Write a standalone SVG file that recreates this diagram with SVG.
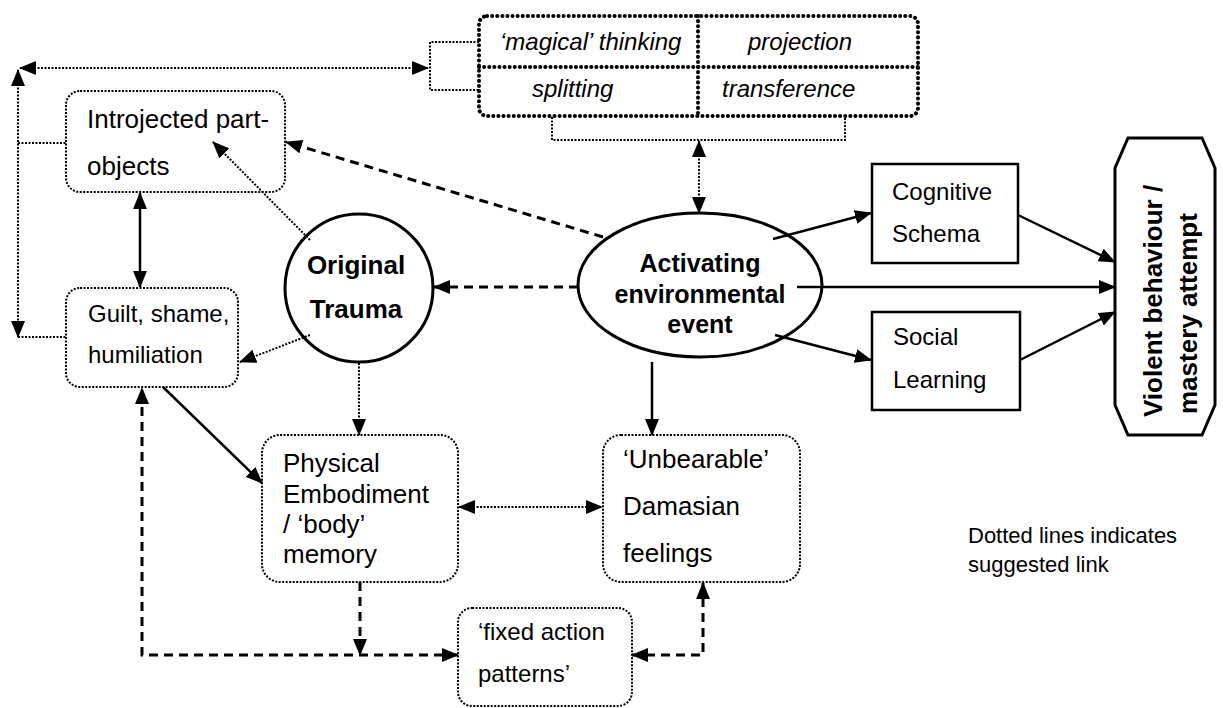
<svg xmlns="http://www.w3.org/2000/svg" width="1223" height="708" viewBox="0 0 1223 708">
<style>
text{font-family:"Liberation Sans",Arial,sans-serif;fill:#000}
.r24{font-size:24px}
.r26{font-size:26px}
.b{font-weight:bold}
.it{font-style:italic;font-size:24px}
.box{fill:#fff;stroke:#000;stroke-width:2;stroke-dasharray:2 1.5}
.def{fill:none;stroke:#000;stroke-width:4;stroke-dasharray:0.1 5;stroke-linecap:round}
.solidbox{fill:#fff;stroke:#000;stroke-width:2.5}
.shape{fill:#fff;stroke:#000;stroke-width:3}
.c{fill:none;stroke:#000}
.dot{stroke-width:2;stroke-dasharray:2 1.5}
.dash{stroke-width:3;stroke-dasharray:9 6}
.sol{stroke-width:2.5}
</style>
<defs>
<marker id="a" viewBox="0 0 17 14" refX="16" refY="7" markerWidth="17" markerHeight="14" markerUnits="userSpaceOnUse" orient="auto-start-reverse">
<path d="M0,0 L17,7 L0,14 z" fill="#000"/>
</marker>
</defs>

<g id="defenses">
<rect class="def" x="479" y="16" width="439" height="100" rx="8"/>
<line class="def" x1="479" y1="67" x2="918" y2="67"/>
<line class="def" x1="698" y1="16" x2="698" y2="116"/>
<text class="it" x="500" y="50">‘magical’ thinking</text>
<text class="it" x="748" y="50">projection</text>
<text class="it" x="532" y="97">splitting</text>
<text class="it" x="722" y="97">transference</text>
</g>

<g id="introjected">
<rect class="box" x="66" y="91" width="219" height="101" rx="14"/>
<text class="r26" x="87" y="128">Introjected part-</text>
<text class="r26" x="87" y="175">objects</text>
</g>

<g id="guilt">
<rect class="box" x="66" y="288" width="172" height="99" rx="14"/>
<text class="r24" x="88" y="322">Guilt, shame,</text>
<text class="r24" x="88" y="363">humiliation</text>
</g>

<g id="trauma">
<circle class="shape" cx="359" cy="288" r="74"/>
<text class="r26 b" x="356" y="274" text-anchor="middle">Original</text>
<text class="r26 b" x="356" y="318" text-anchor="middle">Trauma</text>
</g>

<g id="activating">
<ellipse class="shape" cx="700" cy="285" rx="122" ry="72"/>
<text class="b" style="font-size:25px" x="700" y="272" text-anchor="middle">Activating</text>
<text class="b" style="font-size:25px" x="700" y="303" text-anchor="middle">environmental</text>
<text class="b" style="font-size:25px" x="700" y="333" text-anchor="middle">event</text>
</g>

<g id="cognitive">
<rect class="solidbox" x="872" y="164" width="146" height="99"/>
<text class="r24" x="892" y="200">Cognitive</text>
<text class="r24" x="892" y="242">Schema</text>
</g>

<g id="social">
<rect class="solidbox" x="872" y="312" width="148" height="98"/>
<text class="r24" x="893" y="345">Social</text>
<text class="r24" x="893" y="388">Learning</text>
</g>

<g id="violent">
<path class="shape" d="M1128,138 H1202 L1215,168 V405 L1202,435 H1128 L1115,405 V168 z"/>
<text class="b" style="font-size:26px" transform="translate(1162,417) rotate(-90)">Violent behaviour /</text>
<text class="b" style="font-size:26px" transform="translate(1197,414) rotate(-90)">mastery attempt</text>
</g>

<g id="physical">
<rect class="box" x="262" y="435" width="196" height="147" rx="18"/>
<text class="r26" x="283" y="472">Physical</text>
<text class="r26" x="283" y="503">Embodiment</text>
<text class="r26" x="283" y="533">/ ‘body’</text>
<text class="r26" x="283" y="563">memory</text>
</g>

<g id="unbearable">
<rect class="box" x="603" y="435" width="197" height="147" rx="18"/>
<text class="r26" x="623" y="468">‘Unbearable’</text>
<text class="r26" x="623" y="515">Damasian</text>
<text class="r26" x="623" y="562">feelings</text>
</g>

<g id="fixed">
<rect class="box" x="458" y="608" width="174" height="98" rx="14"/>
<text class="r24" x="478" y="640">‘fixed action</text>
<text class="r24" x="478" y="682">patterns’</text>
</g>

<g id="legend">
<text style="font-size:22px" x="968" y="543">Dotted lines indicates</text>
<text style="font-size:22px" x="968" y="572">suggested link</text>
</g>

<g id="connectors">
<line class="c dot" x1="20" y1="68" x2="428" y2="68" marker-start="url(#a)" marker-end="url(#a)"/>
<line class="c dot" x1="18" y1="70" x2="18" y2="337" marker-start="url(#a)" marker-end="url(#a)"/>
<line class="c dot" x1="18" y1="143" x2="66" y2="143"/>
<line class="c dot" x1="18" y1="337" x2="66" y2="337"/>
<path class="c dot" d="M479,42 H430 V90 H479"/>
<path class="c dot" d="M552,117 V140 H845 V117"/>
<line class="c dot" x1="699" y1="141" x2="699" y2="213" marker-start="url(#a)" marker-end="url(#a)"/>
<line class="c sol" x1="140" y1="193" x2="140" y2="287" marker-start="url(#a)" marker-end="url(#a)"/>
<line class="c dot" x1="310" y1="240" x2="213" y2="142" marker-end="url(#a)"/>
<line class="c dot" x1="310" y1="335" x2="240" y2="362" marker-end="url(#a)"/>
<line class="c dot" x1="359" y1="363" x2="359" y2="435" marker-end="url(#a)"/>
<line class="c dash" x1="603" y1="237" x2="286" y2="142" marker-end="url(#a)"/>
<line class="c dash" x1="578" y1="287" x2="434" y2="287" marker-end="url(#a)"/>
<line class="c sol" x1="773" y1="239" x2="871" y2="213" marker-end="url(#a)"/>
<line class="c sol" x1="797" y1="287" x2="1115" y2="287" marker-end="url(#a)"/>
<line class="c sol" x1="775" y1="335" x2="871" y2="360" marker-end="url(#a)"/>
<line class="c sol" x1="1018" y1="215" x2="1115" y2="262" marker-end="url(#a)"/>
<line class="c sol" x1="1020" y1="360" x2="1115" y2="312" marker-end="url(#a)"/>
<line class="c sol" x1="652" y1="362" x2="652" y2="435" marker-end="url(#a)"/>
<line class="c sol" x1="163" y1="387" x2="262" y2="483" marker-end="url(#a)"/>
<line class="c dot" x1="459" y1="507" x2="602" y2="507" marker-start="url(#a)" marker-end="url(#a)"/>
<path class="c dash" d="M458,655 H142 V388" marker-start="url(#a)" marker-end="url(#a)"/>
<line class="c dash" x1="360" y1="582" x2="360" y2="655" marker-end="url(#a)"/>
<path class="c dash" d="M703,583 V655 H632" marker-start="url(#a)" marker-end="url(#a)"/>
</g>
</svg>
